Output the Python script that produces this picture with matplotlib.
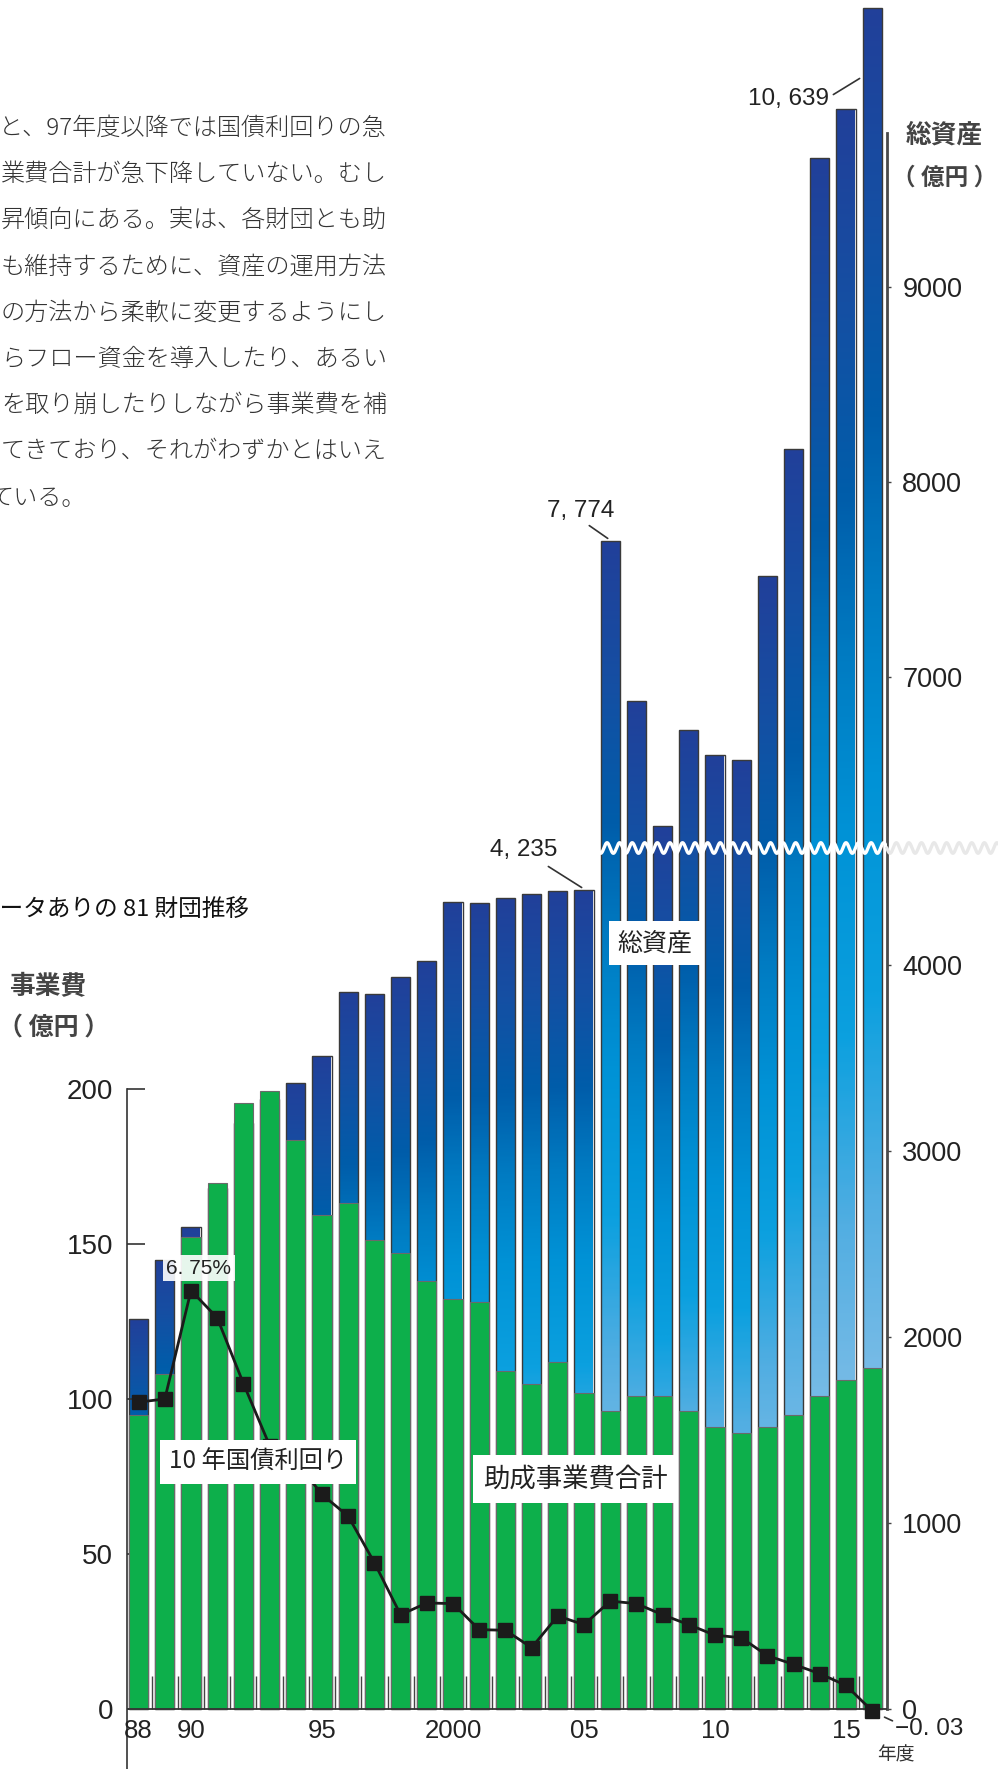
import numpy as np
import matplotlib
matplotlib.use("Agg")
import matplotlib.pyplot as plt
from matplotlib.colors import LinearSegmentedColormap

# data (fiscal years 1988-2016)
YEARS = list(range(1988, 2017))
GRANTS = [94.8, 108, 152.3, 169.7, 195.5, 199.4, 183.5, 159.4, 163.2, 151.3,
          147.1, 138, 132.3, 131.3, 109, 105, 112, 102, 96, 101,
          101, 96, 91, 89, 91, 95, 101, 106, 110]          # 助成事業費合計 (億円)
ASSETS = [2097, 2414, 2591, 2800, 3150, 3280, 3366, 3511, 3855, 3844,
          3935, 4022, 4339, 4333, 4360, 4382, 4398, 4403, 7697, 6877,
          6236, 6728, 6600, 6574, 7518, 8169, 9662, 9913, 10430]  # 総資産 (億円)
YIELDS = [4.95, 5.00, 6.75, 6.31, 5.25, 4.25, 4.00, 3.46, 3.11, 2.36,
          1.52, 1.71, 1.70, 1.28, 1.27, 0.99, 1.50, 1.36, 1.74, 1.70,
          1.52, 1.36, 1.19, 1.15, 0.86, 0.72, 0.57, 0.38, -0.03]  # 10年国債利回り (%)

XLABELS = {1988: "88", 1990: "90", 1995: "95", 2000: "2000",
           2005: "05", 2010: "10", 2015: "15"}
GRANT_TICKS = [0, 50, 100, 150, 200]
ASSET_TICKS = [0, 1000, 2000, 3000, 4000, 7000, 8000, 9000]

BODY = ["と、97年度以降では国債利回りの急",
        "業費合計が急下降していない。むし",
        "昇傾向にある。実は、各財団とも助",
        "も維持するために、資産の運用方法",
        "の方法から柔軟に変更するようにし",
        "らフロー資金を導入したり、あるい",
        "を取り崩したりしながら事業費を補",
        "てきており、それがわずかとはいえ",
        "ている。"]

# layout (pixels of the 998x1769 output)
W_PX, H_PX = 998, 1769
BASE_PX = 1709          # baseline from top
X0_PX, STEP_PX = 138.6, 26.2
LEFT_PX, RIGHT_PX = 127, 887
GRANT_PX = 3.1          # px per 億円 (left axis)
YIELD_PX = 62.0         # px per 1 %
BAR_W = 0.73

GREEN = "#0daf4b"
CJK = ["Noto Sans CJK JP", "DejaVu Sans"]
NUM = ["Liberation Sans", "DejaVu Sans"]
NARROW = ["Liberation Sans Narrow", "Liberation Sans", "DejaVu Sans"]

# broken asset axis: 0-4624 below the wave, 6123- above it
LOW_TOP, HIGH_BOTTOM = 4624.0, 6123.0
K_LOW, K_HIGH = 0.186, 0.195
P_BREAK = LOW_TOP * K_LOW


def asset_fwd(v):
    v = np.asarray(v, dtype=float)
    gap = P_BREAK + (v - LOW_TOP) / (HIGH_BOTTOM - LOW_TOP)
    high = P_BREAK + 1.0 + (v - HIGH_BOTTOM) * K_HIGH
    return np.where(v <= LOW_TOP, v * K_LOW, np.where(v <= HIGH_BOTTOM, gap, high))


def asset_inv(p):
    p = np.asarray(p, dtype=float)
    gap = LOW_TOP + (p - P_BREAK) * (HIGH_BOTTOM - LOW_TOP)
    high = HIGH_BOTTOM + (p - P_BREAK - 1.0) / K_HIGH
    return np.where(p <= P_BREAK, p / K_LOW, np.where(p <= P_BREAK + 1.0, gap, high))


def fx(px):
    return px / W_PX


def fy(py):
    return 1 - py / H_PX


def ix(px):
    return (px - X0_PX) / STEP_PX


def asset_y(py):
    return float(asset_inv(BASE_PX - py))


def yield_y(py):
    return (BASE_PX - py) / YIELD_PX


cmap = LinearSegmentedColormap.from_list("assets", [
    (0.00, "#8dc7eb"), (0.18, "#7dbde7"), (0.30, "#52aee2"),
    (0.42, "#0ba0df"), (0.55, "#0092d6"), (0.66, "#007bc2"),
    (0.76, "#005daa"), (0.88, "#154fa3"), (1.00, "#21409a")])

fig = plt.figure(figsize=(W_PX / 100, H_PX / 100), dpi=100, facecolor="white")
ax = fig.add_axes([fx(LEFT_PX), 0, fx(RIGHT_PX - LEFT_PX), 1])
ax2 = ax.twinx()
ax3 = ax.twinx()
ax2.set_zorder(1)
ax.set_zorder(2)
ax3.set_zorder(3)
for a in (ax, ax2, ax3):
    a.patch.set_visible(False)
    for s in a.spines.values():
        s.set_visible(False)

x = np.arange(len(YEARS))
xlim = (ix(LEFT_PX), ix(RIGHT_PX))

# total assets: gradient bars on the broken scale
ax2.set_yscale("function", functions=(asset_fwd, asset_inv))
for i, v in enumerate(ASSETS):
    ys = np.linspace(0, v, 400)
    t = asset_fwd(ys) / asset_fwd(v)
    img = cmap(t)[:, None, :]
    ax2.imshow(img, origin="lower", aspect="auto", interpolation="bilinear",
               extent=(i - BAR_W / 2, i + BAR_W / 2, 0, v), zorder=1)
ax2.bar(x, ASSETS, width=BAR_W, fill=False, edgecolor="#3a3a3a",
        linewidth=1.0, zorder=2)
ax2.set_xlim(xlim)
ax2.set_ylim(-(H_PX - BASE_PX) / K_LOW, asset_y(0))
ax2.set_yticks(ASSET_TICKS)
ax2.set_yticklabels([str(t) for t in ASSET_TICKS], family=NUM, fontsize=19.5,
                    color="#222222")
ax2.yaxis.set_minor_locator(matplotlib.ticker.NullLocator())
ax2.tick_params(axis="y", right=True, left=False, labelright=True,
                labelleft=False, direction="out", length=3, width=1,
                pad=8, color="#444444")
ax2.spines["right"].set_visible(True)
ax2.spines["right"].set_bounds(0, asset_y(133))
ax2.spines["right"].set_color("#4a4a4a")
ax2.spines["right"].set_linewidth(2.0)

# grants: green bars on the left axis
ax.bar(x, GRANTS, width=BAR_W, color=GREEN, edgecolor="#6a6a6a",
       linewidth=0.8, zorder=2)
ax.vlines(x[:-1] + 0.5, 0, 33 / GRANT_PX, colors="#444444", linewidth=1.0,
          zorder=3)
ax.axhline(0, color="#333333", linewidth=1.3, zorder=4)
ax.set_xlim(xlim)
ax.set_ylim(-(H_PX - BASE_PX) / GRANT_PX, BASE_PX / GRANT_PX)
ax.set_xticks([])
ax.set_yticks(GRANT_TICKS)
ax.set_yticklabels([str(t) for t in GRANT_TICKS], family=NUM, fontsize=20,
                   color="#222222")
ax.tick_params(axis="y", direction="in", length=13, width=1.2, pad=10,
               color="#333333")
ax.spines["left"].set_visible(True)
ax.spines["left"].set_bounds(-(H_PX - BASE_PX) / GRANT_PX, 200)
ax.spines["left"].set_color("#333333")
ax.spines["left"].set_linewidth(1.2)

for yr, lab in XLABELS.items():
    ax.text(YEARS.index(yr), (BASE_PX - 1731) / GRANT_PX, lab, ha="center",
            va="center", fontsize=18.5, family=NUM, color="#222222",
            clip_on=False)

# axis break wave
wave_y = (BASE_PX - 848) / GRANT_PX
xs = np.linspace(ix(595), ix(RIGHT_PX), 800)
ax.plot(xs, wave_y + 1.7 * np.sin(2 * np.pi * xs / 0.48), color="white",
        linewidth=2.4, zorder=5, solid_capstyle="butt")
xs2 = np.linspace(ix(RIGHT_PX), ix(W_PX), 300)
ax.plot(xs2, wave_y + 1.7 * np.sin(2 * np.pi * xs2 / 0.48), color="#e8e8e8",
        linewidth=2.4, zorder=5, clip_on=False)

# bond yield line
ax3.plot(x, YIELDS, color="#1b1b1b", linewidth=2.0, marker="s",
         markersize=9.8, markerfacecolor="#1b1b1b", markeredgecolor="#1b1b1b",
         zorder=3)
ax3.set_xlim(xlim)
ax3.set_ylim(-(H_PX - BASE_PX) / YIELD_PX, BASE_PX / YIELD_PX)
ax3.set_yticks([])
ax3.set_xticks([])

# leaders and value labels
line_kw = dict(arrowprops=dict(arrowstyle="-", color="#333333", lw=1.2))
ax2.annotate("", xy=(ix(862), asset_y(77)), xytext=(ix(831), asset_y(96)),
             **line_kw)
ax2.annotate("", xy=(ix(610), asset_y(540)), xytext=(ix(587), asset_y(524)),
             **line_kw)
ax2.annotate("", xy=(ix(584), asset_y(889)), xytext=(ix(546), asset_y(865)),
             **line_kw)
ax3.annotate("", xy=(ix(895), yield_y(1722)), xytext=(ix(882), yield_y(1716)),
             annotation_clip=False, **line_kw)

fig.text(fx(789), fy(99), "10, 639", ha="center", va="center", fontsize=17.5,
         family=NARROW, color="#222222", zorder=10)
fig.text(fx(581), fy(511), "7, 774", ha="center", va="center", fontsize=17.5,
         family=NARROW, color="#222222", zorder=10)
fig.text(fx(524), fy(850), "4, 235", ha="center", va="center", fontsize=17.5,
         family=NARROW, color="#222222", zorder=10)
fig.text(fx(929), fy(1729), "−0. 03", ha="center", va="center", fontsize=17.5,
         family=NARROW, color="#222222", zorder=10)
fig.text(fx(896), fy(1755), "年度", ha="center", va="center", fontsize=13.5,
         family=CJK, color="#333333", zorder=10)

box = dict(boxstyle="square,pad=0.35", facecolor="white", edgecolor="none")
fig.text(fx(199), fy(1268), "6. 75%", ha="center", va="center", fontsize=15,
         family=NARROW, color="#222222", zorder=10,
         bbox=dict(boxstyle="square,pad=0.15", facecolor="white",
                   edgecolor="none", alpha=0.9))
fig.text(fx(258), fy(1462), "10 年国債利回り", ha="center", va="center",
         fontsize=17.5, family=CJK, color="#222222", zorder=10, bbox=box)
fig.text(fx(575), fy(1479), "助成事業費合計", ha="center", va="center",
         fontsize=19, family=CJK, color="#222222", zorder=10,
         bbox=dict(boxstyle="square,pad=0.38", facecolor="white",
                   edgecolor="none"))
fig.text(fx(655), fy(943), "総資産", ha="center", va="center", fontsize=18,
         family=CJK, color="#222222", zorder=10, bbox=box)

# axis titles
fig.text(fx(48), fy(987), "事業費", ha="center", va="center", fontsize=18.5,
         family=CJK, fontweight="bold", color="#444444", zorder=10)
fig.text(fx(54), fy(1028), "（ 億円 ）", ha="center", va="center", fontsize=18,
         family=CJK, fontweight="bold", color="#444444", zorder=10)
fig.text(fx(944), fy(135), "総資産", ha="center", va="center", fontsize=18.5,
         family=CJK, fontweight="bold", color="#444444", zorder=10)
fig.text(fx(945), fy(178), "（ 億円 ）", ha="center", va="center", fontsize=17,
         family=CJK, fontweight="bold", color="#444444", zorder=10)
fig.text(fx(249), fy(909), "データありの 81 財団推移", ha="right", va="center",
         fontsize=17, family=CJK, color="#111111", zorder=10)

# body text above the chart
for k, line in enumerate(BODY):
    y = fy(128 + 46.25 * k)
    if k < len(BODY) - 1:
        fig.text(fx(387), y, line, ha="right", va="center", fontsize=17.4,
                 family=CJK, fontweight="light", color="#333333")
    else:
        fig.text(fx(-10), y, line, ha="left", va="center", fontsize=17.4,
                 family=CJK, fontweight="light", color="#333333")

fig.savefig("out.png", dpi=100, facecolor="white")
